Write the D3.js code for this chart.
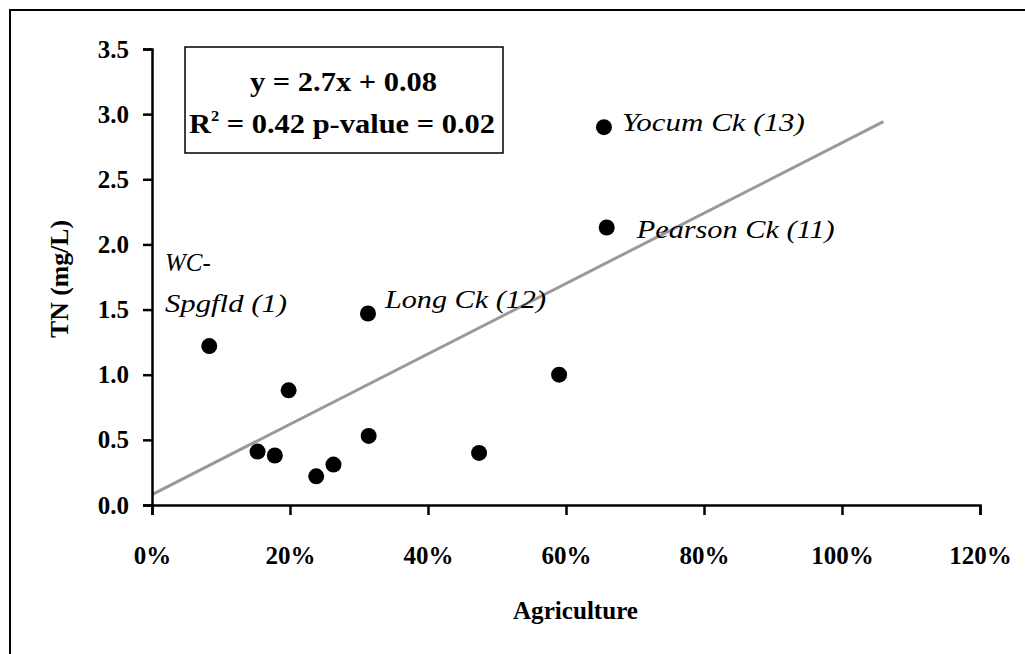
<!DOCTYPE html>
<html><head><meta charset="utf-8">
<script src="https://cdn.jsdelivr.net/npm/d3@7"></script>
<style>
html,body{margin:0;padding:0;background:#fff;}
svg text{font-family:"Liberation Serif","Times New Roman",serif;}
</style></head>
<body><svg id="chart" width="1025" height="654"></svg>
<script>
const sites = ["WC-Spgfld (1)","","","","","","","","","Long Ck (12)","Yocum Ck (13)","Pearson Ck (11)"];
const agriculture = [0.083,0.153,0.178,0.198,0.238,0.263,0.314,0.474,0.590,0.313,0.655,0.659];
const tn = [1.22,0.41,0.38,0.88,0.22,0.31,0.53,0.40,1.00,1.47,2.90,2.13];
const xTicks = [0,0.2,0.4,0.6,0.8,1.0,1.2];
const yTicks = [0,0.5,1.0,1.5,2.0,2.5,3.0,3.5];
const slope = 2.7, intercept = 0.08, trendEnd = 1.06;
const FF = '"Liberation Serif","Times New Roman",serif';

const svg = d3.select("#chart");
svg.append("rect").attr("x",10).attr("y",10).attr("width",1030).attr("height",660)
  .attr("fill","#fff").attr("stroke","#000").attr("stroke-width",2);

const x = d3.scaleLinear().domain([0,1.2]).range([152,980]);
const y = d3.scaleLinear().domain([0,3.5]).range([505,49]);

// trend line
svg.append("line")
  .attr("x1",x(0)).attr("y1",y(intercept))
  .attr("x2",x(trendEnd)).attr("y2",y(slope*trendEnd+intercept))
  .attr("stroke","#999").attr("stroke-width",3);

// axes
const yAxis = svg.append("g").attr("transform",`translate(${x(0)},0)`)
  .call(d3.axisLeft(y).tickValues(yTicks).tickFormat(d3.format(".1f")).tickSize(9).tickPadding(14));
const xAxis = svg.append("g").attr("transform",`translate(0,${y(0)})`)
  .call(d3.axisBottom(x).tickValues(xTicks).tickFormat(d3.format(".0%")).tickSize(10).tickPadding(31));
[yAxis,xAxis].forEach(g=>{
  g.attr("font-size",25).attr("font-family",FF);
  g.select(".domain").attr("stroke","#000").attr("stroke-width",2.5);
  g.selectAll(".tick line").attr("stroke","#000").attr("stroke-width",2.5);
  g.selectAll(".tick text").attr("fill","#000").attr("font-size",25).attr("font-weight","bold")
   .attr("font-family",FF);
});

// points
const pts = agriculture.map((a,i)=>({a, t:tn[i], s:sites[i]}));
svg.selectAll("circle.pt").data(pts).enter().append("circle").attr("class","pt")
  .attr("cx",d=>x(d.a)).attr("cy",d=>y(d.t)).attr("r",8).attr("fill","#000");

// labels
function lab(tx,ty,str,len){
  const t = svg.append("text").attr("x",tx).attr("y",ty).attr("font-size",25)
    .attr("font-family",FF).attr("font-style","italic").attr("fill","#000").text(str);
  if(len) t.attr("textLength",len).attr("lengthAdjust","spacingAndGlyphs");
}
lab(x(agriculture[10])+18, y(tn[10])+4, sites[10], 183);
lab(x(agriculture[11])+30, y(tn[11])+11, sites[11], 198);
lab(x(agriculture[9])+17, y(tn[9])-5, sites[9], 161);
lab(165, 271, "WC-");
lab(165, 312, "Spgfld (1)", 122);

// equation box
svg.append("rect").attr("x",185).attr("y",47).attr("width",318).attr("height",106)
  .attr("fill","#fff").attr("stroke","#000").attr("stroke-width",1.5);
svg.append("text").attr("x",250).attr("y",91)
  .attr("font-size",28).attr("font-weight","bold").attr("fill","#000").attr("font-family",FF)
  .attr("textLength",187).attr("lengthAdjust","spacingAndGlyphs")
  .text(`y = ${slope}x + ${intercept}`);
const l2 = svg.append("text").attr("x",189).attr("y",133).attr("font-family",FF)
  .attr("font-size",28).attr("font-weight","bold").attr("fill","#000")
  .attr("textLength",306).attr("lengthAdjust","spacingAndGlyphs");
l2.append("tspan").text("R");
l2.append("tspan").attr("font-size",15).attr("dy",-12).text("2");
l2.append("tspan").attr("dy",12).text(" = 0.42 p-value = 0.02");

// axis titles
svg.append("text").attr("x",513).attr("y",619).attr("font-family",FF)
  .attr("font-size",26).attr("font-weight","bold").attr("fill","#000")
  .attr("textLength",125).attr("lengthAdjust","spacingAndGlyphs").text("Agriculture");
svg.append("text").attr("transform","translate(68,338) rotate(-90)").attr("font-family",FF)
  .attr("font-size",26).attr("font-weight","bold").attr("fill","#000")
  .attr("textLength",118).attr("lengthAdjust","spacingAndGlyphs").text("TN (mg/L)");
</script></body></html>
